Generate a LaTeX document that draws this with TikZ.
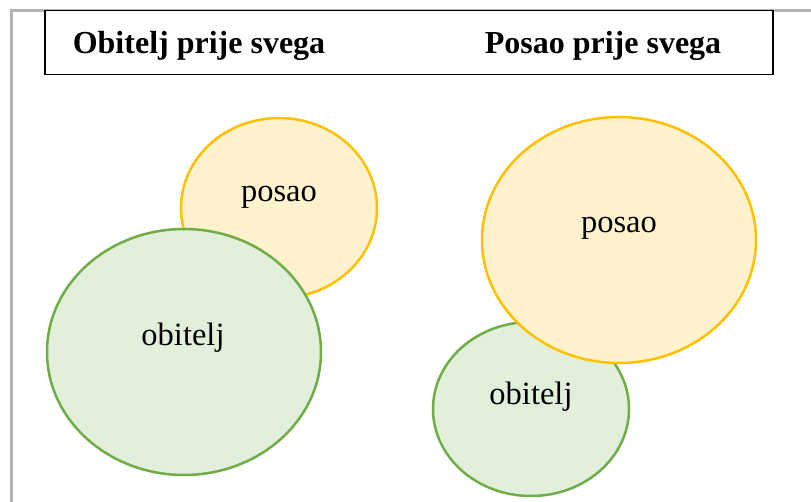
\documentclass[tikz,border=0pt]{standalone}
\usepackage{fontspec}
\setmainfont{Liberation Serif}
\definecolor{yfill}{HTML}{FFF2CC}
\definecolor{ydraw}{HTML}{FFC000}
\definecolor{gfill}{HTML}{E2EFDA}
\definecolor{gdraw}{HTML}{70AD47}
\definecolor{edge}{HTML}{B4B4B4}
\begin{document}
\begin{tikzpicture}[x=1pt,y=-1pt,
  yell/.style={fill=yfill,draw=ydraw,line width=2.5pt},
  gree/.style={fill=gfill,draw=gdraw,line width=2.5pt},
  lbl/.style={font=\fontsize{32.5}{38}\selectfont},
  ttl/.style={font=\fontsize{32}{38}\selectfont\bfseries}]
\useasboundingbox (0,0) rectangle (811,502);
\draw[edge,line width=3pt] (11,502) -- (11,11) -- (811,11);
\node[draw=black,fill=white,line width=1.5pt,minimum width=728pt,minimum height=64pt,anchor=north west,inner sep=0pt] (hdr) at (44,10) {};
\node[ttl] (t1) at (199,46) {Obitelj prije svega};
\node[ttl] (t2) at (603,46) {Posao prije svega};
% left
\draw[yell] (279,208) ellipse [x radius=98, y radius=90];
\draw[gree] (184,352) ellipse [x radius=137, y radius=123];
\node[lbl] (p1) at (279,197) {posao};
\node[lbl] (o1) at (183,338) {obitelj};
% right
\draw[gree] (531,409) ellipse [x radius=98, y radius=87];
\draw[yell] (619,240) ellipse [x radius=137, y radius=123];
\node[lbl] (p2) at (619,228) {posao};
\node[lbl] (o2) at (531,397) {obitelj};
\end{tikzpicture}
\end{document}
